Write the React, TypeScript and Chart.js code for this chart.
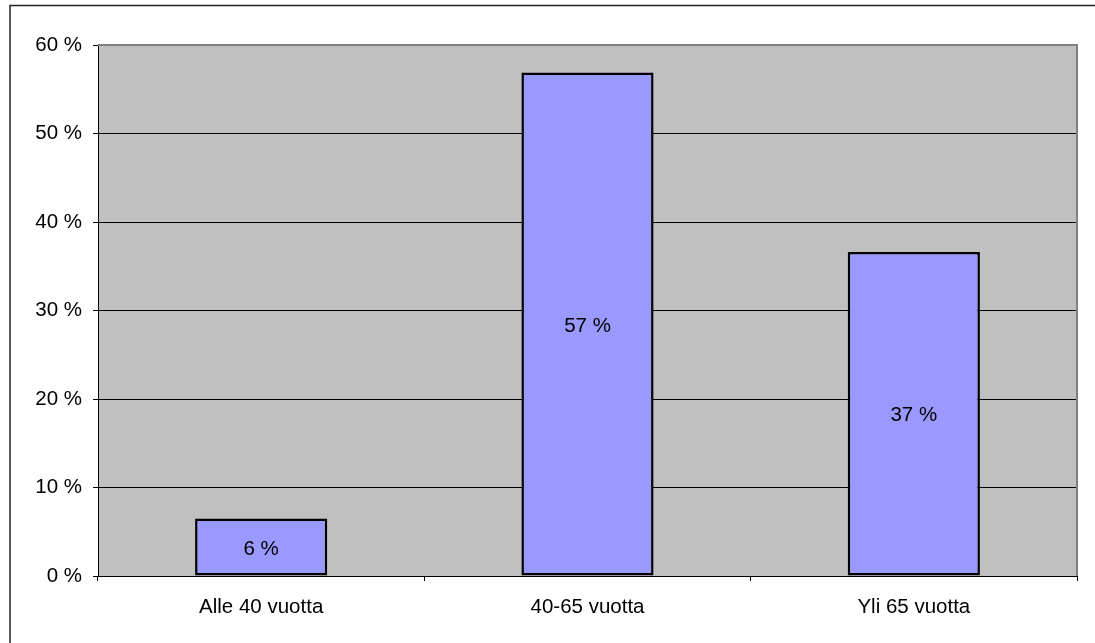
import React, { useEffect, useRef } from "react";
import { Chart, registerables } from "chart.js";

Chart.register(...registerables);

const categories = ["Alle 40 vuotta", "40-65 vuotta", "Yli 65 vuotta"];
const shares = [6.5, 56.9, 36.6];
const shareLabels = ["6 %", "57 %", "37 %"];
const yTicks = [0, 10, 20, 30, 40, 50, 60];

const FONT = "'Liberation Sans', Arial, sans-serif";
const FONT_SIZE = 20.5;

export default function App() {
  const ref = useRef<HTMLCanvasElement | null>(null);

  useEffect(() => {
    if (!ref.current) return;
    const framePlugin = {
      id: "frame",
      beforeDraw(chart: any) {
        const { ctx, chartArea } = chart;
        ctx.save();
        ctx.fillStyle = "#ffffff";
        ctx.fillRect(0, 0, chart.width, chart.height);
        ctx.fillStyle = "#C0C0C0";
        ctx.fillRect(chartArea.left, chartArea.top, chartArea.right - chartArea.left, chartArea.bottom - chartArea.top);
        ctx.restore();
      },
      afterDraw(chart: any) {
        const { ctx, chartArea } = chart;
        ctx.save();
        ctx.strokeStyle = "#808080";
        ctx.lineWidth = 2;
        ctx.beginPath();
        ctx.moveTo(chartArea.left, chartArea.top);
        ctx.lineTo(chartArea.right, chartArea.top);
        ctx.lineTo(chartArea.right, chartArea.bottom);
        ctx.stroke();
        ctx.strokeStyle = "#222222";
        ctx.lineWidth = 1.5;
        ctx.strokeRect(10, 5.5, chart.width + 20, chart.height + 20);
        ctx.fillStyle = "#000000";
        ctx.font = `${FONT_SIZE}px ${FONT}`;
        ctx.textAlign = "center";
        ctx.textBaseline = "middle";
        const meta = chart.getDatasetMeta(0);
        meta.data.forEach((bar: any, i: number) => {
          const cy = (bar.y + bar.base) / 2 + 2;
          ctx.fillText(shareLabels[i], bar.x, cy);
        });
        ctx.restore();
      },
    };

    const chart = new Chart(ref.current, {
      type: "bar",
      data: {
        labels: categories,
        datasets: [
          {
            data: shares,
            backgroundColor: "#9999FF",
            borderColor: "#000000",
            borderWidth: 2.5,
            borderSkipped: false,
            barPercentage: 0.405,
            categoryPercentage: 1,
          },
        ],
      },
      options: {
        animation: false,
        responsive: false,
        maintainAspectRatio: false,
        layout: { padding: { top: 45, right: 18, left: 0, bottom: 0 } },
        plugins: { legend: { display: false }, tooltip: { enabled: false } },
        scales: {
          x: {
            grid: {
              display: true,
              drawOnChartArea: false,
              drawTicks: true,
              tickLength: 5,
              color: "#000000",
              offset: true,
            },
            border: { display: true, color: "#000000", width: 1 },
            ticks: {
              color: "#000000",
              font: { family: FONT, size: FONT_SIZE },
              padding: 14,
              maxRotation: 0,
            },
            afterFit(scale: any) {
              scale.height = 67;
            },
          },
          y: {
            min: 0,
            max: 60,
            afterBuildTicks(scale: any) {
              scale.ticks = yTicks.map((v) => ({ value: v }));
            },
            grid: {
              color: "#000000",
              lineWidth: 1,
              drawTicks: true,
              tickLength: 5,
            },
            border: { display: true, color: "#000000", width: 1 },
            ticks: {
              color: "#000000",
              font: { family: FONT, size: FONT_SIZE },
              padding: 11,
              callback: (v: any) => `${v} %`,
            },
            afterFit(scale: any) {
              scale.width = 98;
            },
          },
        },
      },
      plugins: [framePlugin],
    });
    return () => chart.destroy();
  }, []);

  return (
    <div style={{ position: "fixed", left: 0, top: 0, width: 1095, height: 643, background: "#fff" }}>
      <canvas ref={ref} width={1095} height={643} style={{ width: 1095, height: 643, display: "block" }} />
    </div>
  );
}
